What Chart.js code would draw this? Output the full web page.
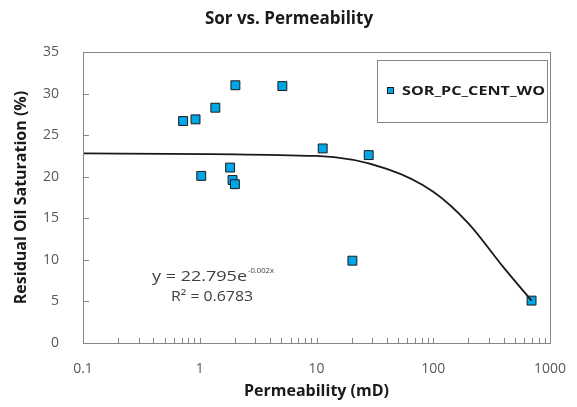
<!DOCTYPE html>
<html>
<head>
<meta charset="utf-8">
<script src="https://cdn.jsdelivr.net/npm/chart.js@4.4.0/dist/chart.umd.min.js"></script>
<style>
  html, body { margin: 0; padding: 0; background: #fff; }
  #wrap { width: 577px; height: 407px; }
</style>
</head>
<body>
<div id="wrap"><canvas id="chart"></canvas></div>
<script>
// measured points (permeability mD, residual oil saturation %)
const permeability = [0.72, 0.92, 1.36, 2.02, 5.1, 1.03, 1.82, 1.91, 2.0, 11.3, 28, 20.3, 695];
const sor = [26.7, 26.9, 28.3, 31.0, 30.9, 20.1, 21.1, 19.6, 19.1, 23.4, 22.6, 9.9, 5.1];

// exponential trendline
const trendX = [0.1, 10, 40, 100, 200, 400, 695];
const trendY = [22.8, 22.5, 20.95, 18.2, 14.4, 9.1, 5.1];

const xTickLabels = ['0.1', '1', '10', '100', '1000'];
const yTicks = [0, 5, 10, 15, 20, 25, 30, 35];

const seriesName = 'SOR_PC_CENT_WO';
const equation = ['y = 22.795e', '-0.002x'];
const rSquared = 'R² = 0.6783';

const FONT = "'Open Sans', sans-serif";
const TICK_COLOR = '#595959';
const AXIS_COLOR = '#868686';

const scatter = permeability.map((x, i) => ({ x: x, y: sor[i] }));
const trend = trendX.map((x, i) => ({ x: x, y: trendY[i] }));

// text stretched a little sideways, like the original export
function wideText(ctx, text, x, y, width) {
  const m = ctx.measureText(text).width;
  ctx.save();
  ctx.translate(x, y);
  ctx.scale(width / m, 1);
  ctx.fillText(text, 0, 0);
  ctx.restore();
}

// frame, inside tick marks, title, legend box and equation
const decorations = {
  id: 'decorations',
  afterDraw(chart) {
    const { ctx, chartArea: a, scales: { x, y } } = chart;
    ctx.save();
    ctx.strokeStyle = AXIS_COLOR;
    ctx.lineWidth = 1;
    ctx.strokeRect(a.left + 0.5, a.top + 0.5, a.right - a.left, a.bottom - a.top);

    ctx.beginPath();
    yTicks.forEach(v => {
      const py = Math.round(y.getPixelForValue(v)) + 0.5;
      ctx.moveTo(a.left, py);
      ctx.lineTo(a.left + 6, py);
    });
    for (let d = -1; d <= 2; d++) {
      for (let m = 1; m <= 9; m++) {
        const px = Math.round(x.getPixelForValue(m * Math.pow(10, d))) + 0.5;
        ctx.moveTo(px, a.bottom);
        ctx.lineTo(px, a.bottom - 5);
      }
    }
    ctx.stroke();

    // title
    ctx.fillStyle = '#1a1a1a';
    ctx.font = 'bold 17px ' + FONT;
    ctx.textAlign = 'center';
    ctx.textBaseline = 'middle';
    ctx.fillText('Sor vs. Permeability', 289, 19);

    // legend
    ctx.strokeStyle = AXIS_COLOR;
    ctx.strokeRect(377.5, 60.5, 170, 62);
    ctx.fillStyle = '#00a6e6';
    ctx.fillRect(387, 87, 7, 7);
    ctx.strokeStyle = '#1a1a1a';
    ctx.strokeRect(387.5, 87.5, 6, 6);
    ctx.fillStyle = '#1a1a1a';
    ctx.font = 'bold 13px ' + FONT;
    ctx.textAlign = 'left';
    wideText(ctx, seriesName, 402, 91, 143);

    // equation
    ctx.fillStyle = '#404040';
    ctx.font = '14px ' + FONT;
    ctx.textAlign = 'left';
    wideText(ctx, equation[0], 152, 277, 95);
    ctx.font = '8px ' + FONT;
    wideText(ctx, equation[1], 248, 271, 26);
    ctx.font = '14px ' + FONT;
    wideText(ctx, rSquared, 171, 297, 82);
    ctx.restore();
  }
};

new Chart(document.getElementById('chart'), {
  type: 'scatter',
  data: {
    datasets: [
      {
        label: 'Expon. trend',
        data: trend,
        showLine: true,
        borderColor: '#1a1a1a',
        borderWidth: 1.8,
        pointRadius: 0,
        cubicInterpolationMode: 'monotone'
      },
      {
        label: seriesName,
        data: scatter,
        pointStyle: 'rect',
        pointRadius: 6.3,
        pointBackgroundColor: '#00a6e6',
        pointBorderColor: '#1a1a1a',
        pointBorderWidth: 1
      }
    ]
  },
  options: {
    responsive: true,
    maintainAspectRatio: false,
    animation: false,
    layout: { padding: { top: 52, right: 27, left: 0, bottom: 0 } },
    plugins: {
      legend: { display: false },
      tooltip: { enabled: false },
      title: { display: false }
    },
    scales: {
      x: {
        type: 'logarithmic',
        min: 0.1,
        max: 1000,
        grid: { display: false },
        border: { display: false },
        ticks: {
          autoSkip: false,
          maxRotation: 0,
          padding: 10,
          color: TICK_COLOR,
          font: { family: FONT, size: 14 },
          callback: v => {
            const l = Math.log10(v);
            return Math.abs(l - Math.round(l)) < 1e-6 ? xTickLabels[Math.round(l) + 1] : '';
          }
        },
        title: {
          display: true,
          text: 'Permeability (mD)',
          color: '#1a1a1a',
          font: { family: FONT, size: 16, weight: 'bold' },
          padding: { top: 0, bottom: 6 }
        },
        afterFit: s => { s.height = 64; }
      },
      y: {
        min: 0,
        max: 35,
        grid: { display: false },
        border: { display: false },
        ticks: {
          stepSize: 5,
          padding: 16,
          color: TICK_COLOR,
          font: { family: FONT, size: 14 }
        },
        title: {
          display: true,
          text: 'Residual Oil Saturation (%)',
          color: '#1a1a1a',
          font: { family: FONT, size: 16, weight: 'bold' },
          padding: { top: 12, bottom: 0 }
        },
        afterFit: s => { s.width = 83; }
      }
    }
  },
  plugins: [decorations]
});
</script>
</body>
</html>
